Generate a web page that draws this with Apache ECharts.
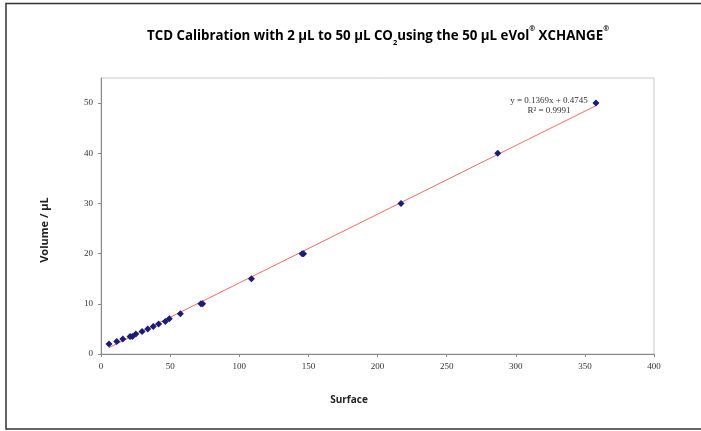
<!DOCTYPE html>
<html>
<head>
<meta charset="utf-8">
<script src="https://cdn.jsdelivr.net/npm/echarts@6/dist/echarts.min.js"></script>
<style>html,body{margin:0;padding:0;background:#fff}#c{width:701px;height:431px}</style>
</head>
<body>
<div id="c"></div>
<script>
const surface = [5.8, 11.4, 15.8, 21, 22.7, 25.2, 29.7, 33.8, 37.8, 41.7, 46.5, 49.4, 57.4, 72.3, 73.5, 108.8, 145.5, 146.5, 217, 287, 358];
const volume  = [2, 2.5, 3, 3.5, 3.5, 4, 4.5, 5, 5.5, 6, 6.5, 7, 8, 10, 10, 15, 20, 20, 30, 40, 50];
const trendX = [5.8, 358];
const trendY = [1.27, 49.48];
const xTicks = [0, 50, 100, 150, 200, 250, 300, 350, 400];
const yTicks = [0, 10, 20, 30, 40, 50];
const equationText = 'y = 0.1369x + 0.4745';
const r2Text = 'R² = 0.9991';

const chart = echarts.init(document.getElementById('c'), null, {renderer: 'canvas'});
const labelFont = {fontFamily: 'Liberation Serif', fontSize: 9, color: '#333'};
chart.setOption({
  animation: false,
  backgroundColor: '#fff',
  grid: {left: 101, right: 47, top: 78, bottom: 77, show: true, borderColor: '#c8c8c8', borderWidth: 1},
  xAxis: {
    type: 'value', min: 0, max: 400,
    axisLine: {show: true, lineStyle: {color: '#888', width: 1}},
    axisTick: {show: true, length: 3, lineStyle: {color: '#888'}, customValues: xTicks},
    axisLabel: Object.assign({margin: 8, customValues: xTicks}, labelFont),
    splitLine: {show: false}
  },
  yAxis: {
    type: 'value', min: 0, max: 55,
    axisLine: {show: true, lineStyle: {color: '#888', width: 1}},
    axisTick: {show: true, length: 3, lineStyle: {color: '#888'}, customValues: yTicks},
    axisLabel: Object.assign({margin: 8, customValues: yTicks}, labelFont),
    splitLine: {show: false}
  },
  series: [
    {
      type: 'line',
      data: trendX.map((x, i) => [x, trendY[i]]),
      showSymbol: false,
      lineStyle: {color: '#f46a6a', width: 1},
      silent: true,
      z: 1
    },
    {
      type: 'scatter',
      data: surface.map((x, i) => [x, volume[i]]),
      symbol: 'diamond',
      symbolSize: 7,
      itemStyle: {color: '#1c1c78', opacity: 1},
      z: 2
    }
  ],
  graphic: [
    {type: 'rect', shape: {x: 6, y: 3.5, width: 720, height: 425.5}, style: {fill: 'none', stroke: '#333', lineWidth: 1.5}, silent: true},
    {type: 'text', x: 378, y: 36, style: {
      text: '{a|TCD Calibration with 2 µL to 50 µL CO}{s|2}{a|using the 50 µL eVol}{r|®}{a| XCHANGE}{r|®}',
      align: 'center', verticalAlign: 'middle',
      rich: {
        a: {fontFamily: 'Open Sans', fontWeight: 'bold', fontSize: 13.3, color: '#222', lineHeight: 21, verticalAlign: 'middle'},
        s: {fontFamily: 'Open Sans', fontWeight: 'bold', fontSize: 7.5, color: '#222', lineHeight: 21, verticalAlign: 'bottom'},
        r: {fontFamily: 'Open Sans', fontWeight: 'bold', fontSize: 7, color: '#222', lineHeight: 21, verticalAlign: 'top'}
      }
    }},
    {type: 'text', x: 45, y: 230, rotation: Math.PI / 2, style: {
      text: 'Volume / µL', align: 'center', verticalAlign: 'middle',
      fontFamily: 'Open Sans', fontWeight: 'bold', fontSize: 11, fill: '#222'
    }},
    {type: 'text', x: 349, y: 400, style: {
      text: 'Surface', align: 'center', verticalAlign: 'middle',
      fontFamily: 'Open Sans', fontWeight: 'bold', fontSize: 10, fill: '#222'
    }},
    {type: 'text', x: 549, y: 101, style: {
      text: equationText, align: 'center', verticalAlign: 'middle',
      fontFamily: 'Liberation Serif', fontSize: 9, fill: '#333'
    }},
    {type: 'text', x: 549, y: 111, style: {
      text: r2Text, align: 'center', verticalAlign: 'middle',
      fontFamily: 'Liberation Serif', fontSize: 9, fill: '#333'
    }}
  ]
});
</script>
</body>
</html>
